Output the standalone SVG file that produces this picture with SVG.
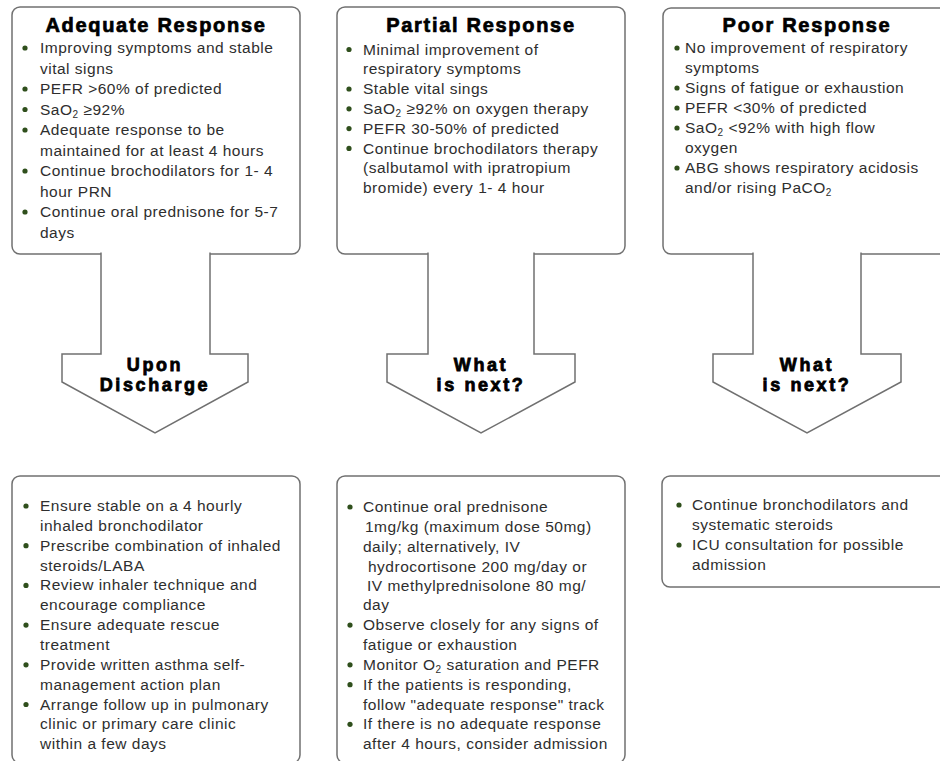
<svg xmlns="http://www.w3.org/2000/svg" width="940" height="761" viewBox="0 0 940 761">
<style>
.box{fill:#fff;stroke:#707070;stroke-width:1.5}
.arrow{fill:#fff;stroke:#707070;stroke-width:1.5;stroke-linejoin:miter}
.t{font-family:"Liberation Sans",Arial,sans-serif;font-size:15.5px;letter-spacing:0.5px;fill:#2e2e2e}
.h{font-family:"Liberation Sans",Arial,sans-serif;font-size:20px;font-weight:bold;letter-spacing:1.7px;fill:#000;stroke:#000;stroke-width:0.7;text-anchor:middle}
.a{font-family:"Liberation Sans",Arial,sans-serif;font-size:18px;font-weight:bold;letter-spacing:2.6px;fill:#000;stroke:#000;stroke-width:0.8;text-anchor:middle}
.b{fill:#2f4f1c}
.s{font-size:10px}
</style>
<rect width="940" height="761" fill="#fff"/>

<g id="adequate">
<rect class="box" x="12" y="7" width="288" height="247" rx="8"/>
<text class="h" x="156" y="32">Adequate Response</text>
<circle class="b" cx="25" cy="48" r="2.6"/>
<circle class="b" cx="25" cy="89" r="2.6"/>
<circle class="b" cx="25" cy="109.5" r="2.6"/>
<circle class="b" cx="25" cy="130" r="2.6"/>
<circle class="b" cx="25" cy="171" r="2.6"/>
<circle class="b" cx="25" cy="212" r="2.6"/>
<text class="t" x="40" y="53">Improving symptoms and stable</text>
<text class="t" x="40" y="73.5">vital signs</text>
<text class="t" x="40" y="94">PEFR &gt;60% of predicted</text>
<text class="t" x="40" y="114.5">SaO<tspan class="s" dy="3">2</tspan><tspan dy="-3"> ≥92%</tspan></text>
<text class="t" x="40" y="135">Adequate response to be</text>
<text class="t" x="40" y="155.5">maintained for at least 4 hours</text>
<text class="t" x="40" y="176">Continue brochodilators for 1- 4</text>
<text class="t" x="40" y="196.5">hour PRN</text>
<text class="t" x="40" y="217">Continue oral prednisone for 5-7</text>
<text class="t" x="40" y="237.5">days</text>
</g>

<g id="partial">
<rect class="box" x="337" y="7" width="288" height="247" rx="8"/>
<text class="h" x="481" y="32">Partial Response</text>
<circle class="b" cx="349" cy="49.5" r="2.6"/>
<circle class="b" cx="349" cy="89" r="2.6"/>
<circle class="b" cx="349" cy="108.8" r="2.6"/>
<circle class="b" cx="349" cy="128.6" r="2.6"/>
<circle class="b" cx="349" cy="148.4" r="2.6"/>
<text class="t" x="363" y="54.5">Minimal improvement of</text>
<text class="t" x="363" y="74.3">respiratory symptoms</text>
<text class="t" x="363" y="94.1">Stable vital sings</text>
<text class="t" x="363" y="113.9">SaO<tspan class="s" dy="3">2</tspan><tspan dy="-3"> ≥92% on oxygen therapy</tspan></text>
<text class="t" x="363" y="133.7">PEFR 30-50% of predicted</text>
<text class="t" x="363" y="153.5">Continue brochodilators therapy</text>
<text class="t" x="363" y="173.3">(salbutamol with ipratropium</text>
<text class="t" x="363" y="193.1">bromide) every 1- 4 hour</text>
</g>

<g id="poor">
<rect class="box" x="663" y="8" width="290" height="246" rx="8"/>
<text class="h" x="807" y="32">Poor Response</text>
<circle class="b" cx="677" cy="48" r="2.6"/>
<circle class="b" cx="677" cy="88" r="2.6"/>
<circle class="b" cx="677" cy="108" r="2.6"/>
<circle class="b" cx="677" cy="128" r="2.6"/>
<circle class="b" cx="677" cy="168" r="2.6"/>
<text class="t" x="685" y="53">No improvement of respiratory</text>
<text class="t" x="685" y="73">symptoms</text>
<text class="t" x="685" y="93">Signs of fatigue or exhaustion</text>
<text class="t" x="685" y="113">PEFR &lt;30% of predicted</text>
<text class="t" x="685" y="133">SaO<tspan class="s" dy="3">2</tspan><tspan dy="-3"> &lt;92% with high flow</tspan></text>
<text class="t" x="685" y="153">oxygen</text>
<text class="t" x="685" y="173">ABG shows respiratory acidosis</text>
<text class="t" x="685" y="193">and/or rising PaCO<tspan class="s" dy="3">2</tspan></text>
</g>

<g id="discharge">
<rect class="box" x="12" y="476" width="288" height="287" rx="8"/>
<circle class="b" cx="26" cy="506" r="2.6"/>
<circle class="b" cx="26" cy="545.7" r="2.6"/>
<circle class="b" cx="26" cy="585.4" r="2.6"/>
<circle class="b" cx="26" cy="625.1" r="2.6"/>
<circle class="b" cx="26" cy="664.8" r="2.6"/>
<circle class="b" cx="26" cy="704.5" r="2.6"/>
<text class="t" x="40" y="511">Ensure stable on a 4 hourly</text>
<text class="t" x="40" y="530.85">inhaled bronchodilator</text>
<text class="t" x="40" y="550.7">Prescribe combination of inhaled</text>
<text class="t" x="40" y="570.55">steroids/LABA</text>
<text class="t" x="40" y="590.4">Review inhaler technique and</text>
<text class="t" x="40" y="610.25">encourage compliance</text>
<text class="t" x="40" y="630.1">Ensure adequate rescue</text>
<text class="t" x="40" y="649.95">treatment</text>
<text class="t" x="40" y="669.8">Provide written asthma self-</text>
<text class="t" x="40" y="689.65">management action plan</text>
<text class="t" x="40" y="709.5">Arrange follow up in pulmonary</text>
<text class="t" x="40" y="729.35">clinic or primary care clinic</text>
<text class="t" x="40" y="749.2">within a few days</text>
</g>

<g id="partial-next">
<rect class="box" x="337" y="476" width="288" height="287" rx="8"/>
<circle class="b" cx="350" cy="507" r="2.6"/>
<circle class="b" cx="350" cy="625.1" r="2.6"/>
<circle class="b" cx="350" cy="664.8" r="2.6"/>
<circle class="b" cx="350" cy="684.65" r="2.6"/>
<circle class="b" cx="350" cy="724.35" r="2.6"/>
<text class="t" x="363" y="512">Continue oral prednisone</text>
<text class="t" x="365" y="531.85">1mg/kg (maximum dose 50mg)</text>
<text class="t" x="363" y="551.7">daily; alternatively, IV</text>
<text class="t" x="368" y="571.55">hydrocortisone 200 mg/day or</text>
<text class="t" x="367" y="591.4">IV methylprednisolone 80 mg/</text>
<text class="t" x="363" y="610.25">day</text>
<text class="t" x="363" y="630.1">Observe closely for any signs of</text>
<text class="t" x="363" y="649.95">fatigue or exhaustion</text>
<text class="t" x="363" y="669.8">Monitor O<tspan class="s" dy="3">2</tspan><tspan dy="-3"> saturation and PEFR</tspan></text>
<text class="t" x="363" y="689.65">If the patients is responding,</text>
<text class="t" x="363" y="709.5">follow "adequate response" track</text>
<text class="t" x="363" y="729.35">If there is no adequate response</text>
<text class="t" x="363" y="749.2">after 4 hours, consider admission</text>
</g>

<g id="poor-next">
<rect class="box" x="662" y="476" width="291" height="111" rx="8"/>
<circle class="b" cx="679" cy="505" r="2.6"/>
<circle class="b" cx="679" cy="545" r="2.6"/>
<text class="t" x="692" y="510">Continue bronchodilators and</text>
<text class="t" x="692" y="530">systematic steroids</text>
<text class="t" x="692" y="550">ICU consultation for possible</text>
<text class="t" x="692" y="569.5">admission</text>
</g>

<g id="connectors">
<path class="arrow" d="M101,252.5 V354 H62 V382 L155,433 L248,382 V354 H210 V252.5"/>
<text class="a" x="155" y="371">Upon</text>
<text class="a" x="155" y="391">Discharge</text>
<path class="arrow" d="M428,252.5 V354 H387 V382 L481,433 L575,382 V354 H534 V252.5"/>
<text class="a" x="481" y="371">What</text>
<text class="a" x="481" y="391">is next?</text>
<path class="arrow" d="M753,252.5 V354 H713 V382 L807,433 L901,382 V354 H861 V252.5"/>
<text class="a" x="807" y="371">What</text>
<text class="a" x="807" y="391">is next?</text>
</g>
</svg>
